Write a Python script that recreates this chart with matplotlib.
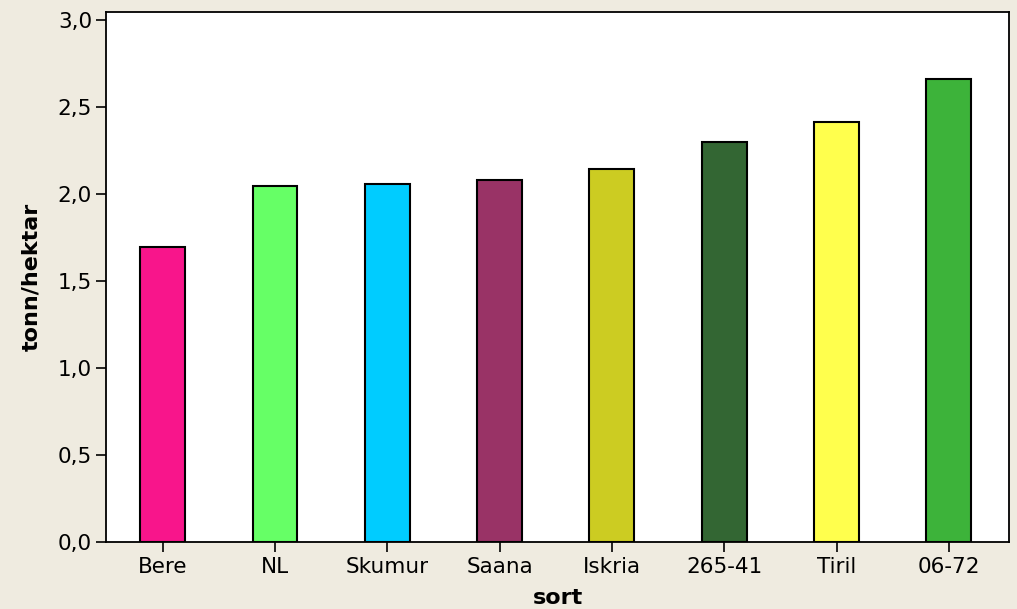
import matplotlib
matplotlib.use("Agg")
import matplotlib.pyplot as plt
from matplotlib.ticker import FuncFormatter

# data
sorts = ["Bere", "NL", "Skumur", "Saana", "Iskria", "265-41", "Tiril", "06-72"]
tonnPerHektar = [1.694, 2.048, 2.060, 2.081, 2.144, 2.298, 2.415, 2.662]
barColors = ["#F8158B", "#66FF66", "#00CCFF", "#993366",
             "#CCCC22", "#336633", "#FFFF4D", "#3DB33A"]
yTicks = [0.0, 0.5, 1.0, 1.5, 2.0, 2.5, 3.0]

bgColor = "#EFEBE0"

fig = plt.figure(figsize=(10.17, 6.09), dpi=100, facecolor=bgColor)
ax = fig.add_axes([0.1042, 0.1105, 0.888, 0.8698])
ax.set_facecolor("white")

ax.bar(range(len(sorts)), tonnPerHektar, width=0.4, color=barColors,
       edgecolor="black", linewidth=1.5)

ax.set_xlim(-0.505, 7.536)
ax.set_ylim(0, 3.048)
ax.set_xticks(range(len(sorts)))
ax.set_xticklabels(sorts)
ax.set_yticks(yTicks)
ax.yaxis.set_major_formatter(FuncFormatter(lambda v, p: f"{v:.1f}".replace(".", ",")))

for side in ax.spines.values():
    side.set_linewidth(1.3)
    side.set_color("black")

ax.tick_params(axis="both", direction="out", length=7, width=1.2,
               labelsize=15.5, colors="black")
ax.tick_params(axis="x", pad=4)
ax.tick_params(axis="y", pad=3)

ax.set_ylabel("tonn/hektar", fontsize=16, fontweight="bold", labelpad=12)
ax.set_xlabel("sort", fontsize=16, fontweight="bold", labelpad=8)

plt.savefig("out.png", dpi=100, facecolor=bgColor)
